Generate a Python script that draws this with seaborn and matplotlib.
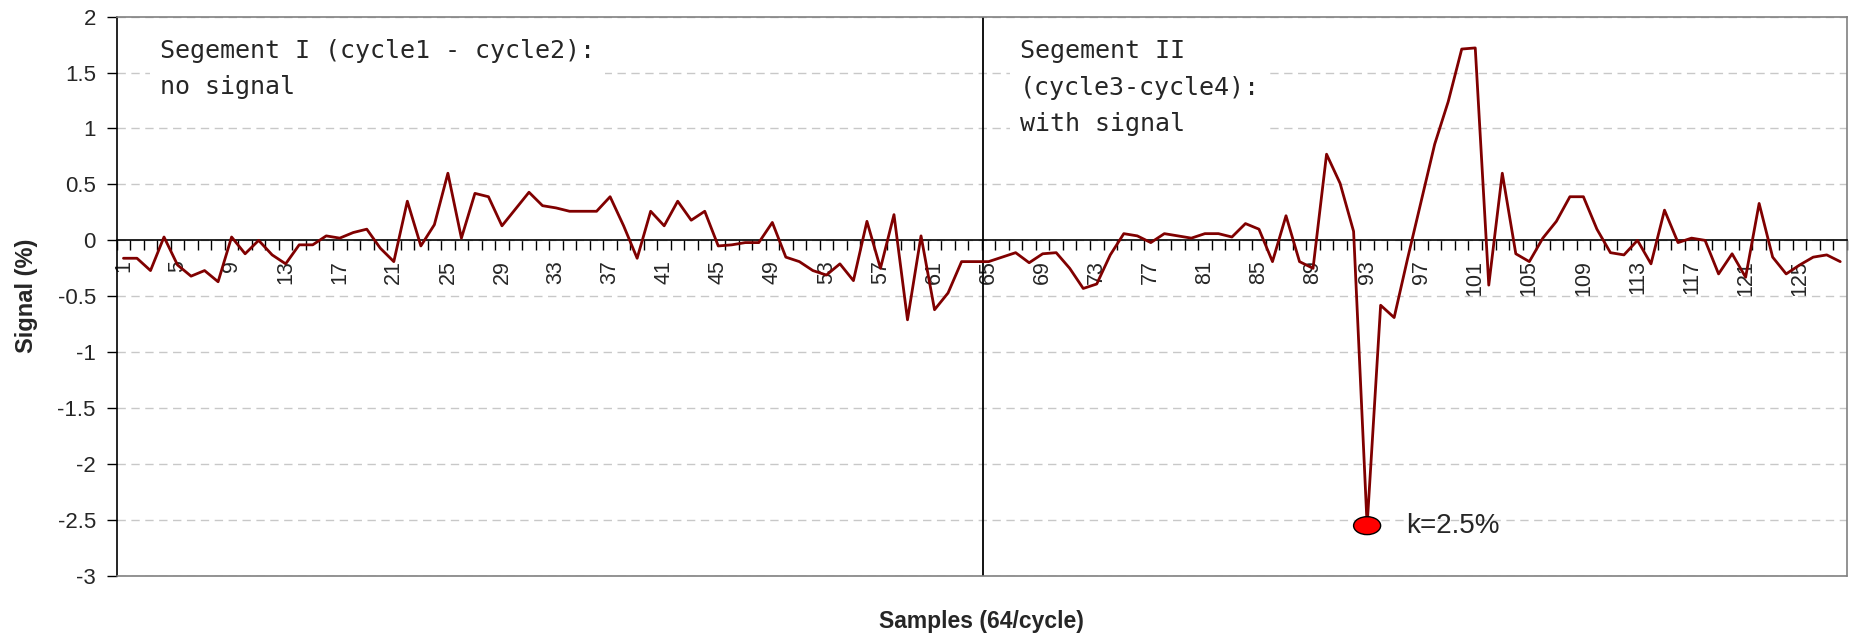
import numpy as np
import pandas as pd
import matplotlib
matplotlib.use("Agg")
import matplotlib.pyplot as plt
import seaborn as sns
from matplotlib.patches import Ellipse

# ---------------- data ----------------
samples = list(range(1, 129))
signal = [
    -0.16, -0.16, -0.27, 0.03, -0.22, -0.32, -0.27, -0.37, 0.03, -0.12,
    0.00, -0.13, -0.21, -0.04, -0.04, 0.04, 0.02, 0.07, 0.10, -0.07,
    -0.19, 0.35, -0.05, 0.14, 0.60, 0.02, 0.42, 0.39, 0.13, 0.28,
    0.43, 0.31, 0.29, 0.26, 0.26, 0.26, 0.39, 0.13, -0.16, 0.26,
    0.13, 0.35, 0.18, 0.26, -0.05, -0.04, -0.02, -0.02, 0.16, -0.15,
    -0.19, -0.27, -0.31, -0.21, -0.36, 0.17, -0.25, 0.23, -0.71, 0.04,
    -0.62, -0.47, -0.19, -0.19, -0.19, -0.15, -0.11, -0.20, -0.12, -0.11,
    -0.25, -0.43, -0.39, -0.13, 0.06, 0.04, -0.02, 0.06, 0.04, 0.02,
    0.06, 0.06, 0.03, 0.15, 0.10, -0.19, 0.22, -0.19, -0.25, 0.77,
    0.51, 0.08, -2.55, -0.58, -0.69, -0.16, 0.35, 0.86, 1.24, 1.71,
    1.72, -0.40, 0.60, -0.12, -0.19, 0.02, 0.17, 0.39, 0.39, 0.10,
    -0.11, -0.13, 0.00, -0.21, 0.27, -0.02, 0.02, 0.00, -0.30, -0.12,
    -0.33, 0.33, -0.15, -0.30, -0.22, -0.15, -0.13, -0.19,
]
ytick_values = [2, 1.5, 1, 0.5, 0, -0.5, -1, -1.5, -2, -2.5, -3]
ytick_labels = ["2", "1.5", "1", "0.5", "0", "-0.5", "-1", "-1.5", "-2", "-2.5", "-3"]
xtick_values = list(range(1, 129, 4))
xtick_labels = [str(v) for v in xtick_values]
segment1_text = "Segement I (cycle1 - cycle2):\nno signal"
segment2_text = "Segement II\n(cycle3-cycle4):\nwith signal"
segment_boundary = 64.6
marker_sample = 93
marker_label = "k=2.5%"
x_label = "Samples (64/cycle)"
y_label = "Signal (%)"

# ---------------- style ----------------
sns.set_style("white")
plt.rcParams['font.family'] = ['Liberation Sans', 'DejaVu Sans']

W, H = 1856, 636
fig = plt.figure(figsize=(W / 100, H / 100), dpi=100)
left_px, right_px, top_px, bottom_px = 116.7, 1847.0, 16.6, 576.0
ax = fig.add_axes([left_px / W, 1 - bottom_px / H,
                   (right_px - left_px) / W, (bottom_px - top_px) / H])

df = pd.DataFrame({"Sample": samples, "Signal": signal})
sns.lineplot(data=df, x="Sample", y="Signal", ax=ax, color="#800000",
             linewidth=2.0, zorder=3)

ax.set_xlim(0.5, 128.5)
ax.set_ylim(-3, 2)

# y axis
ax.set_yticks(ytick_values, labels=ytick_labels)
ax.tick_params(axis='y', which='major', direction='out', length=7, width=1,
               color='black', labelsize=16, pad=8, left=True)
ax.yaxis.grid(True, linestyle=(0, (6, 4)), color='#c8c8c8', linewidth=1)
ax.xaxis.grid(False)
ax.set_axisbelow(True)

# x axis crossing at y = 0
ax.set_xticks(xtick_values, labels=xtick_labels)
ax.set_xticks(np.arange(0.5, 129, 1), minor=True)
ax.tick_params(axis='x', which='major', length=0, pad=14, labelsize=15.5,
               bottom=True, labelrotation=90)
ax.tick_params(axis='x', which='minor', length=7, width=1, direction='out',
               color='black', bottom=True)
ax.spines['bottom'].set_position(('data', 0))
ax.spines['bottom'].set_color('black')
ax.spines['bottom'].set_linewidth(1.2)
ax.spines['left'].set_color('black')
ax.spines['left'].set_linewidth(1.2)
for s in ('top', 'right'):
    ax.spines[s].set_color('#808080')
    ax.spines[s].set_linewidth(1.2)
ax.plot([0, 1], [0, 0], transform=ax.transAxes, color='#808080', lw=1.2,
        clip_on=False, zorder=4)

ax.set_xlabel("")
ax.set_ylabel("")

# segment boundary
ax.axvline(segment_boundary, color='black', lw=1.3, zorder=2.5)

# annotation boxes
box = dict(facecolor='white', edgecolor='none', boxstyle='square,pad=0.4')
ax.text(3.7, 1.531, segment1_text, family=['DejaVu Sans Mono'], fontsize=18,
        va='center', ha='left', linespacing=1.65, bbox=box, zorder=4)
ax.text(67.3, 1.366, segment2_text, family=['DejaVu Sans Mono'], fontsize=18,
        va='center', ha='left', linespacing=1.65, bbox=box, zorder=4)

# marker
my = signal[marker_sample - 1]
ax.add_patch(Ellipse((marker_sample, my), width=2.0, height=0.16,
                     facecolor='red', edgecolor='black', lw=1, zorder=5))
ax.text(marker_sample + 2.9, my, marker_label, fontsize=20, va='center', ha='left')

# axis titles
fig.text(26.7 / W, 1 - 296 / H, y_label, rotation=90, ha='center', va='center',
         fontsize=17, fontweight='bold')
fig.text(981.7 / W, 1 - 621.7 / H, x_label, ha='center', va='center',
         fontsize=16.5, fontweight='bold')

fig.savefig("out.png", dpi=100)
